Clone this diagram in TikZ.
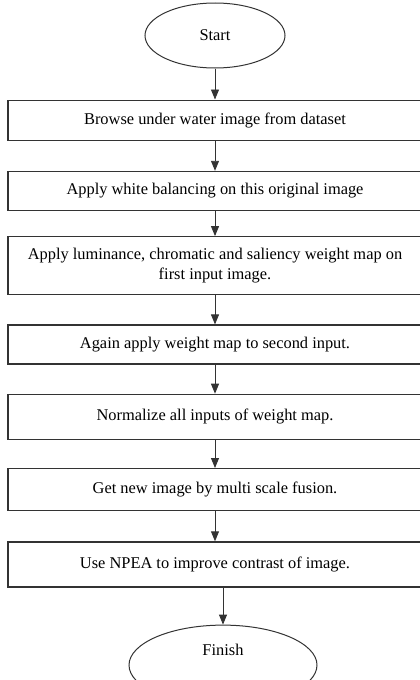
\documentclass[tikz,border=0pt]{standalone}
\usepackage{fontspec}
\setmainfont{Liberation Serif}
\usetikzlibrary{arrows.meta,positioning,shapes.geometric}
\definecolor{FlowLine}{HTML}{333333}

\begin{document}
\begin{tikzpicture}[x=1pt,y=1pt,node distance=29pt,
    every node/.style={font=\fontsize{16.4pt}{20pt}\selectfont,align=center},
    procbox/.style={draw=FlowLine,line width=1.3pt,minimum width=414pt,minimum height=40pt,inner sep=0pt},
    termnode/.style={draw=FlowLine,ellipse,line width=1pt,inner sep=0pt},
    flow/.style={-{Triangle[length=10pt,width=8pt]},line width=0.9pt,FlowLine}]
    \useasboundingbox (0,0) rectangle (420,-680);
    \node[termnode,minimum width=140pt,minimum height=65pt] (start) at (215,-35.5) {Start};
    \node[procbox,below=31pt of start] (browse) {Browse under water image from dataset};
    \node[procbox,below=30pt of browse,minimum height=39pt] (balance) {Apply white balancing on this original image};
    \node[procbox,below=25pt of balance,minimum height=58pt] (weightmap) {Apply luminance, chromatic and saliency weight map on\\first input image.};
    \node[procbox,below=of weightmap,minimum height=39pt] (secondin) {Again apply weight map to second input.};
    \node[procbox,below=of secondin,minimum height=45pt] (normalize) {Normalize all inputs of weight map.};
    \node[procbox,below=28pt of normalize,minimum height=42pt] (fusion) {Get new image by multi scale fusion.};
    \node[procbox,below=30pt of fusion,minimum height=45pt] (npea) {Use NPEA to improve contrast of image.};
    \node[termnode,below=37pt of npea,xshift=8pt,minimum width=188pt,minimum height=80pt,text depth=30pt] (finish) {Finish};
    \foreach \x/\y in {start/browse,browse/balance,balance/weightmap,weightmap/secondin,secondin/normalize,normalize/fusion,fusion/npea}{\draw[flow] (\x)--(\y);}
    \draw[flow] (finish.north |- npea.south)--(finish);
  \end{tikzpicture}
\end{document}
